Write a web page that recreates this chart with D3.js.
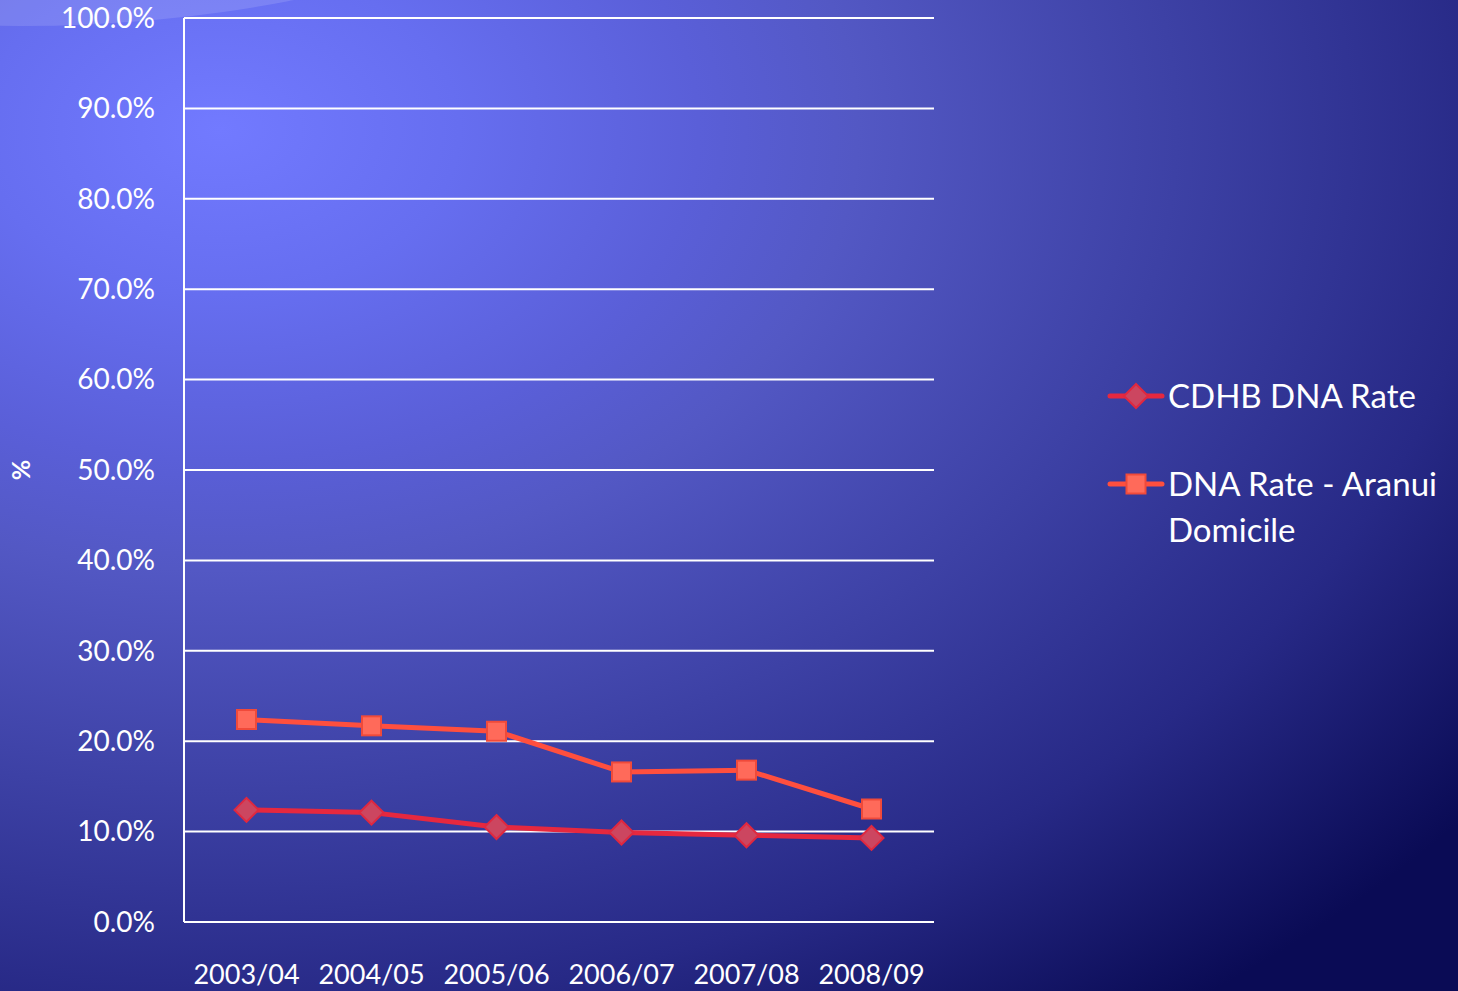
<!DOCTYPE html>
<html>
<head>
<meta charset="utf-8">
<script src="https://cdn.jsdelivr.net/npm/d3@7"></script>
<style>
  html, body { margin: 0; padding: 0; overflow: hidden; }
  svg { display: block; font-family: Lato, "Open Sans", sans-serif; }
</style>
</head>
<body>
<svg id="chart"></svg>
<script>
// Data
const years = ['2003/04', '2004/05', '2005/06', '2006/07', '2007/08', '2008/09'];
const cdhbRate = [12.4, 12.1, 10.5, 9.9, 9.6, 9.3];
const aranuiRate = [22.4, 21.7, 21.1, 16.6, 16.8, 12.5];
const yTicks = [0, 10, 20, 30, 40, 50, 60, 70, 80, 90, 100];

const W = 1458, H = 991;
const plot = { left: 184, right: 934, top: 18, bottom: 922 };

const svg = d3.select('#chart').attr('width', W).attr('height', H);

// Background: elliptical radial gradient, bright near the top left
const defs = svg.append('defs');
const bg = defs.append('radialGradient')
    .attr('id', 'bg')
    .attr('gradientUnits', 'userSpaceOnUse')
    .attr('cx', 220).attr('cy', 130).attr('r', 1100)
    .attr('gradientTransform', 'translate(220,130) scale(1.45,1) translate(-220,-130)');
[[0, '#727aff'], [0.15, '#666ef0'], [0.3, '#5a5fd8'], [0.4, '#5358c4'], [0.6, '#3d41a5'], [0.8, '#272986'], [1, '#0a0b55']]
    .forEach(([o, c]) => bg.append('stop').attr('offset', o).attr('stop-color', c));

svg.append('rect').attr('width', W).attr('height', H).attr('fill', 'url(#bg)');

// Light swoosh in the top left corner
svg.append('ellipse')
    .attr('cx', 20).attr('cy', -300)
    .attr('rx', 700).attr('ry', 326)
    .attr('fill', '#ffffff').attr('opacity', 0.13);

// Scales
const x = d3.scaleBand().domain(years).range([plot.left, plot.right]);
const y = d3.scaleLinear().domain([0, 100]).range([plot.bottom, plot.top]);
const cx = d => x(d) + x.bandwidth() / 2;

// Grid lines
svg.append('g').selectAll('line')
    .data(yTicks)
    .join('line')
    .attr('x1', plot.left).attr('x2', plot.right)
    .attr('y1', d => y(d)).attr('y2', d => y(d))
    .attr('stroke', '#ffffff').attr('stroke-width', 2);

// Y axis line
svg.append('line')
    .attr('x1', plot.left).attr('x2', plot.left)
    .attr('y1', y(100)).attr('y2', y(0))
    .attr('stroke', '#ffffff').attr('stroke-width', 2);

// Y tick labels
svg.append('g').selectAll('text')
    .data(yTicks)
    .join('text')
    .attr('x', 155).attr('y', d => y(d))
    .attr('dy', '0.35em')
    .attr('text-anchor', 'end')
    .attr('fill', '#ffffff')
    .style('font-size', '28px')
    .text(d => d.toFixed(1) + '%');

// X tick labels
svg.append('g').selectAll('text')
    .data(years)
    .join('text')
    .attr('x', d => cx(d)).attr('y', 984)
    .attr('text-anchor', 'middle')
    .attr('fill', '#ffffff')
    .style('font-size', '27px')
    .text(d => d);

// Axis title
svg.append('text')
    .attr('transform', 'translate(21,470) rotate(-90)')
    .attr('dy', '0.35em')
    .attr('text-anchor', 'middle')
    .attr('fill', '#ffffff')
    .style('font-size', '25px')
    .style('font-weight', 'bold')
    .text('%');

// Series
const series = [
    { name: ['CDHB DNA Rate'], values: cdhbRate, line: '#e6283f', fill: '#cc4660', stroke: '#e0283f', shape: 'diamond' },
    { name: ['DNA Rate - Aranui', 'Domicile'], values: aranuiRate, line: '#ff4f3e', fill: '#ff6a5a', stroke: '#f04a3a', shape: 'square' }
];

const line = d3.line().x((d, i) => cx(years[i])).y(d => y(d));

function marker(sel, s) {
    if (s.shape === 'diamond') {
        sel.append('path')
            .attr('d', 'M0,-12L12,0L0,12L-12,0Z')
            .attr('fill', s.fill).attr('stroke', s.stroke).attr('stroke-width', 2);
    } else {
        sel.append('rect')
            .attr('x', -9.5).attr('y', -9.5).attr('width', 19).attr('height', 19)
            .attr('fill', s.fill).attr('stroke', s.stroke).attr('stroke-width', 2);
    }
}

series.forEach(s => {
    svg.append('path')
        .datum(s.values)
        .attr('d', line)
        .attr('fill', 'none')
        .attr('stroke', s.line)
        .attr('stroke-width', 5)
        .attr('stroke-linejoin', 'round');

    svg.append('g').selectAll('g')
        .data(s.values)
        .join('g')
        .attr('transform', (d, i) => `translate(${cx(years[i])},${y(d)})`)
        .each(function () { marker(d3.select(this), s); });
});

// Legend
const legendY = [396, 484];
series.forEach((s, i) => {
    const g = svg.append('g').attr('transform', `translate(1108,${legendY[i]})`);
    g.append('line')
        .attr('x1', 2).attr('x2', 54)
        .attr('stroke', s.line).attr('stroke-width', 5).attr('stroke-linecap', 'round');
    const m = g.append('g').attr('transform', 'translate(28,0)');
    marker(m, s);
    s.name.forEach((t, j) => {
        g.append('text')
            .attr('x', 60).attr('y', j * 46)
            .attr('dy', '0.36em')
            .attr('fill', '#ffffff')
            .style('font-size', '33px')
            .text(t);
    });
});
</script>
</body>
</html>
